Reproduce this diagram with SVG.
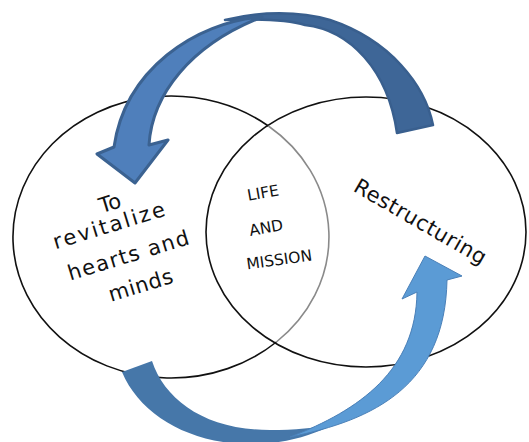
<svg xmlns="http://www.w3.org/2000/svg" width="529" height="442" viewBox="0 0 529 442">
  <style>
    .ring { fill: none; stroke: #111; stroke-width: 1.6; }
    .ring-in { fill: none; stroke: #8a8a8a; stroke-width: 1.6; }
    .hand { font-family: "DejaVu Sans", "Liberation Sans", sans-serif; font-size: 21px; fill: #111; text-anchor: middle; }
    .mid { font-family: "DejaVu Sans", "Liberation Sans", sans-serif; font-size: 15.5px; fill: #111; text-anchor: middle; }
    .top-back { fill: #3e6697; stroke: #395f8e; stroke-width: 2.5; stroke-linejoin: round; }
    .top-front { fill: #4f7fbb; stroke: #3b6291; stroke-width: 3; stroke-linejoin: round; }
    .bot-back { fill: #4677a9; stroke: none; }
    .bot-front { fill: #5b9bd5; stroke: #4a80b8; stroke-width: 1; stroke-linejoin: round; }
  </style>
  <rect width="529" height="442" fill="#ffffff"/>

  <g id="node-left">
    <path class="ring" d="M 276.4,342 A 158 141 0 1 1 268.4,126"/>
    <g transform="translate(112,210) rotate(-17)"><text class="hand" x="0" y="0">To</text></g>
    <g transform="translate(112,232) rotate(-17)"><text class="hand" x="0" y="0" style="letter-spacing:2.2px">revitalize</text></g>
    <g transform="translate(131,262) rotate(-17)"><text class="hand" x="0" y="0" style="letter-spacing:1.4px">hearts and</text></g>
    <g transform="translate(143,292) rotate(-17)"><text class="hand" x="0" y="0" style="letter-spacing:0.6px">minds</text></g>
  </g>

  <g id="node-right">
    <ellipse class="ring" cx="366" cy="232" rx="160" ry="135"/>
    <g transform="translate(417,228) rotate(30)"><text class="hand" x="0" y="0" style="letter-spacing:0.6px">Restructuring</text></g>
  </g>

  <g id="node-center">
    <path class="ring-in" d="M 268.4,126 A 158 141 0 0 1 276.4,342"/>
    <g transform="translate(264,198) rotate(-10)"><text class="mid" x="0" y="0">LIFE</text></g>
    <g transform="translate(267,233) rotate(-10)"><text class="mid" x="0" y="0">AND</text></g>
    <g transform="translate(280,265) rotate(-8)"><text class="mid" x="0" y="0">MISSION</text></g>
  </g>

  <g id="connectors">
    <g id="arrow-top">
      <path class="top-back" d="M 397,133 L 433,125 C 425,85 390,40 330,20 C 300,11 260,11 225,20 C 255,19 285,19 305,25 C 350,30 388,70 397,133 Z"/>
      <path class="top-front" d="M 262,17 C 195,22 125,70 114,147 L 97,154 L 135,183 L 168,140 L 149,145 C 152,95 190,45 262,17 Z"/>
    </g>
    <g id="arrow-bottom">
      <path class="bot-back" d="M 122,372 L 152,361 C 165,400 205,430 270,430 C 295,430 315,428 335,424 C 310,436 285,444 250,444 C 190,444 140,415 122,372 Z"/>
      <path class="bot-front" d="M 290,437 C 375,420 445,385 447,280 L 462,276 L 425,256 L 402,299 L 417,292 C 416,370 360,410 290,437 Z"/>
    </g>
  </g>
</svg>
